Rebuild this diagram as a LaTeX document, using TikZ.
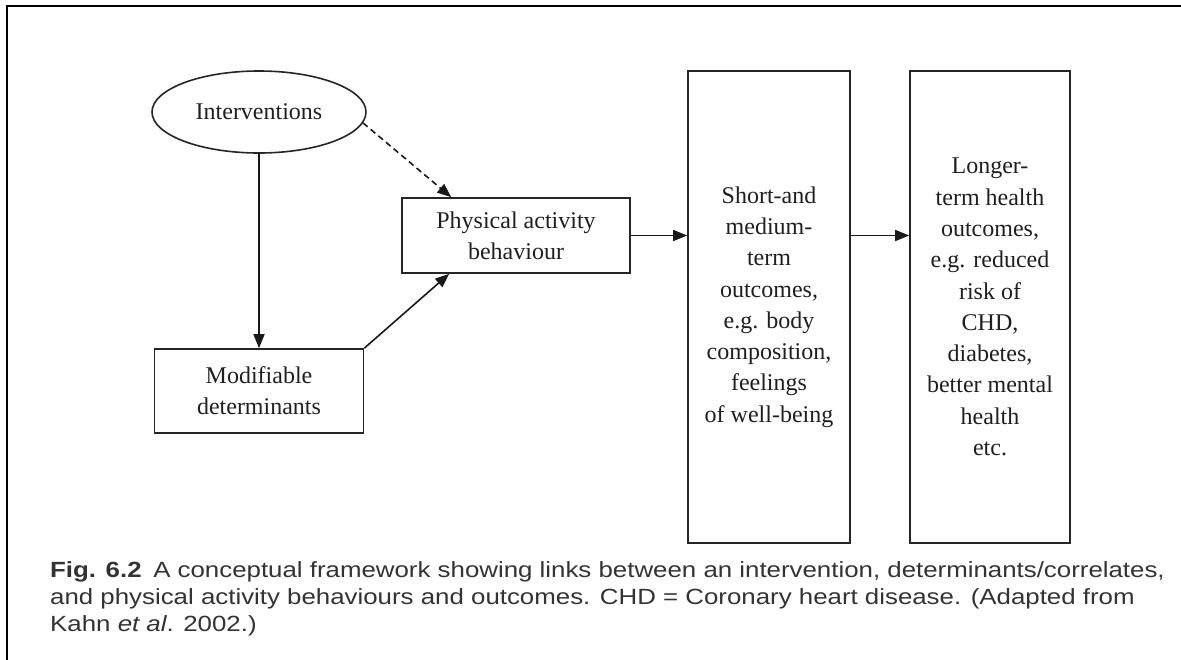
\documentclass[tikz,border=0pt]{standalone}
\usepackage{fontspec}
\setmainfont{Liberation Serif}
\newfontfamily\capfont{Liberation Sans}
\usetikzlibrary{shapes.geometric,arrows.meta}
\newcommand{\capwide}[1]{\scalebox{1.175}[1]{#1}}
\begin{document}
\begin{tikzpicture}[x=1pt,y=-1pt,
  box/.style={draw=black!85, line width=1.6pt, align=center, inner sep=0pt,
    font=\fontsize{24}{31.3}\selectfont, text=black!88},
  link/.style={line width=1.6pt, draw=black!90, -{Triangle[length=14pt,width=11pt]}},
  capline/.style={anchor=base west, inner sep=0pt, text=black!80,
    font=\capfont\fontsize{22}{27}\selectfont},
  frame/.style={line width=2.5pt, line cap=rect}
  ]
\useasboundingbox (0,0) rectangle (1181,659);

% page frame (top and left rules)
\coordinate (frameR) at (1181,6);
\coordinate (frameC) at (7,6);
\coordinate (frameB) at (7,659);
\draw[frame] (frameR) -- (frameC) -- (frameB);

% nodes
\node[box, ellipse, minimum width=214pt, minimum height=82pt] (int) at (259,112) {Interventions};
\node[box, minimum width=209pt, minimum height=84pt] (mod) at (259,391) {Modifiable\\determinants};
\node[box, minimum width=228pt, minimum height=75pt] (phys) at (516,235.5) {Physical activity\\behaviour};
\node[box, minimum width=162pt, minimum height=472pt] (short) at (769,307)
  {Short-and\\medium-\\term\\outcomes,\\e.g. body\\composition,\\feelings\\of well-being};
\node[box, minimum width=160pt, minimum height=472pt] (long) at (990,307)
  {Longer-\\term health\\outcomes,\\e.g. reduced\\risk of\\CHD,\\diabetes,\\better mental\\health\\etc.};

% connectors
\draw[link] (int.south) -- (mod.north);
\draw[link] (mod.north east) -- ([xshift=48pt]phys.south west);
\draw[link, dash pattern=on 6pt off 4pt] (int.-6) -- ([xshift=50pt]phys.north west);
\draw[link] (phys.east) -- (phys.east -| short.west);
\draw[link] (short.east |- phys.east) -- (long.west |- phys.east);

% caption
\node[capline] (cap1) at (50,577) {\capwide{\textbf{Fig. 6.2}\hspace{0.45em}A conceptual framework showing links between an intervention, determinants/correlates,}};
\node[capline] (cap2) at (50,604) {\capwide{and physical activity behaviours and outcomes. CHD = Coronary heart disease. (Adapted from}};
\node[capline] (cap3) at (50,631) {\capwide{Kahn \textit{et al}. 2002.)}};
\end{tikzpicture}
\end{document}
